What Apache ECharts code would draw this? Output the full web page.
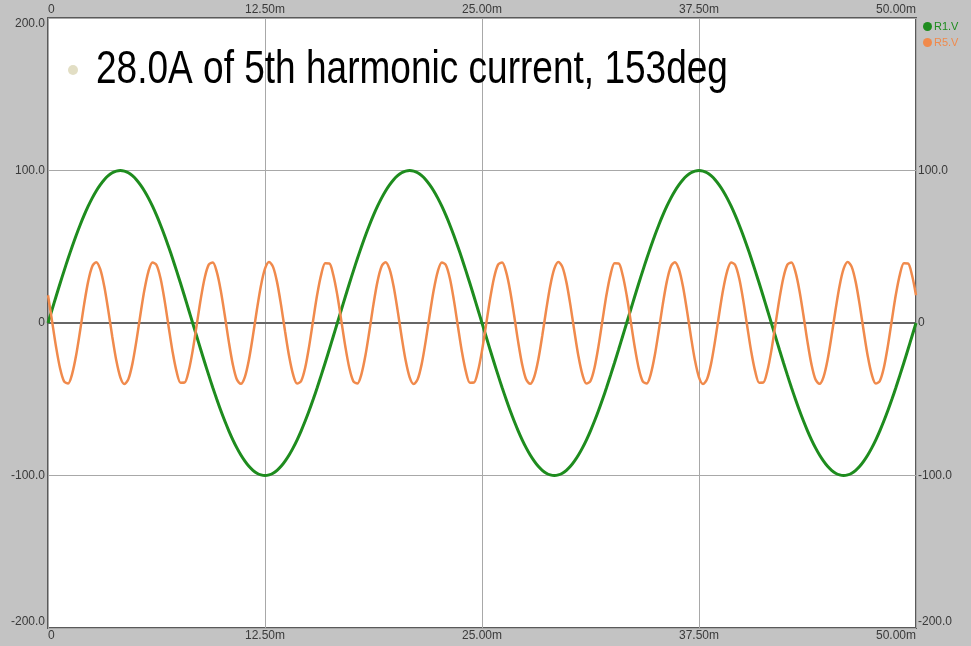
<!DOCTYPE html>
<html>
<head>
<meta charset="utf-8">
<script src="https://cdn.jsdelivr.net/npm/echarts@6/dist/echarts.min.js"></script>
<style>
html,body{margin:0;padding:0;background:#c3c3c3;}
#chart{width:971px;height:646px;}
</style>
</head>
<body>
<div id="chart"></div>
<script>
// Time span of the record (ms)
const T_END_MS = 50;
// Tick labels
const xTickValues = [0, 12.5, 25, 37.5, 50];
const yTickValues = [-200, -100, 0, 100, 200];
const seriesNames = ['R1.V', 'R5.V'];
const annotation = '28.0A of 5th harmonic current, 153deg';

// R1.V fundamental voltage samples, evenly spaced over 0..50 ms
const r1Values = [
0,8.7,17.4,25.9,34.2,42.3,50,57.4,64.3,70.7,76.6,81.9,86.6,90.6,94,96.6,98.5,99.6,100,99.6,98.5,96.6,94,90.6,86.6,81.9,76.6,70.7,64.3,57.4,50,42.3,34.2,25.9,17.4,8.7,
0,-8.7,-17.4,-25.9,-34.2,-42.3,-50,-57.4,-64.3,-70.7,-76.6,-81.9,-86.6,-90.6,-94,-96.6,-98.5,-99.6,-100,-99.6,-98.5,-96.6,-94,-90.6,-86.6,-81.9,-76.6,-70.7,-64.3,-57.4,-50,-42.3,-34.2,-25.9,-17.4,-8.7,
0,8.7,17.4,25.9,34.2,42.3,50,57.4,64.3,70.7,76.6,81.9,86.6,90.6,94,96.6,98.5,99.6,100,99.6,98.5,96.6,94,90.6,86.6,81.9,76.6,70.7,64.3,57.4,50,42.3,34.2,25.9,17.4,8.7,
0,-8.7,-17.4,-25.9,-34.2,-42.3,-50,-57.4,-64.3,-70.7,-76.6,-81.9,-86.6,-90.6,-94,-96.6,-98.5,-99.6,-100,-99.6,-98.5,-96.6,-94,-90.6,-86.6,-81.9,-76.6,-70.7,-64.3,-57.4,-50,-42.3,-34.2,-25.9,-17.4,-8.7,
0,8.7,17.4,25.9,34.2,42.3,50,57.4,64.3,70.7,76.6,81.9,86.6,90.6,94,96.6,98.5,99.6,100,99.6,98.5,96.6,94,90.6,86.6,81.9,76.6,70.7,64.3,57.4,50,42.3,34.2,25.9,17.4,8.7,
0,-8.7,-17.4,-25.9,-34.2,-42.3,-50,-57.4,-64.3,-70.7,-76.6,-81.9,-86.6,-90.6,-94,-96.6,-98.5,-99.6,-100,-99.6,-98.5,-96.6,-94,-90.6,-86.6,-81.9,-76.6,-70.7,-64.3,-57.4,-50,-42.3,-34.2,-25.9,-17.4,-8.7,
0
];

// R5.V 5th harmonic samples, same sample times
const r5Values = [
18.2,1.4,-15.6,-29.7,-38.3,-39.6,-33.5,-21.2,-4.9,12.4,27.3,37.1,39.9,35.3,24.1,8.3,-9,-24.6,-35.6,-40,-36.8,-26.8,-11.7,5.6,21.8,33.9,39.7,38,29.3,15,-2.1,-18.8,-31.9,-39.1,-39,-31.5,
-18.2,-1.4,15.6,29.7,38.3,39.6,33.5,21.2,4.9,-12.4,-27.3,-37.1,-39.9,-35.3,-24.1,-8.3,9,24.6,35.6,40,36.8,26.8,11.7,-5.6,-21.8,-33.9,-39.7,-38,-29.3,-15,2.1,18.8,31.9,39.1,39,31.5,
18.2,1.4,-15.6,-29.7,-38.3,-39.6,-33.5,-21.2,-4.9,12.4,27.3,37.1,39.9,35.3,24.1,8.3,-9,-24.6,-35.6,-40,-36.8,-26.8,-11.7,5.6,21.8,33.9,39.7,38,29.3,15,-2.1,-18.8,-31.9,-39.1,-39,-31.5,
-18.2,-1.4,15.6,29.7,38.3,39.6,33.5,21.2,4.9,-12.4,-27.3,-37.1,-39.9,-35.3,-24.1,-8.3,9,24.6,35.6,40,36.8,26.8,11.7,-5.6,-21.8,-33.9,-39.7,-38,-29.3,-15,2.1,18.8,31.9,39.1,39,31.5,
18.2,1.4,-15.6,-29.7,-38.3,-39.6,-33.5,-21.2,-4.9,12.4,27.3,37.1,39.9,35.3,24.1,8.3,-9,-24.6,-35.6,-40,-36.8,-26.8,-11.7,5.6,21.8,33.9,39.7,38,29.3,15,-2.1,-18.8,-31.9,-39.1,-39,-31.5,
-18.2,-1.4,15.6,29.7,38.3,39.6,33.5,21.2,4.9,-12.4,-27.3,-37.1,-39.9,-35.3,-24.1,-8.3,9,24.6,35.6,40,36.8,26.8,11.7,-5.6,-21.8,-33.9,-39.7,-38,-29.3,-15,2.1,18.8,31.9,39.1,39,31.5,
18.2
];

function toPairs(vals){
  const n = vals.length;
  return vals.map((v,i)=>[i*T_END_MS/(n-1), v]);
}

const GREEN = '#1e8c1e';
const ORANGE = '#f08a4c';
const LABEL_FONT = {color:'#3a3a3a', fontSize:12, fontFamily:'Liberation Sans, Arial, sans-serif'};

const xFmt = v => v === 0 ? '0' : v.toFixed(2) + 'm';
const yFmt = v => v === 0 ? '0' : v.toFixed(1);

const chart = echarts.init(document.getElementById('chart'), null, {renderer:'canvas'});
const xMin = xTickValues[0], xMax = xTickValues[xTickValues.length-1];
const yMin = yTickValues[0], yMax = yTickValues[yTickValues.length-1];
const xInt = xTickValues[1]-xTickValues[0];
const yInt = yTickValues[1]-yTickValues[0];

const xBase = {
  type:'value', min:xMin, max:xMax, interval:xInt,
  axisLine:{show:false}, axisTick:{show:false},
  axisLabel:Object.assign({formatter:xFmt, margin:2, alignMinLabel:'left', alignMaxLabel:'right', showMinLabel:true, showMaxLabel:true}, LABEL_FONT)
};
const yBase = {
  type:'value', min:yMin, max:yMax, interval:yInt,
  axisLine:{show:false}, axisTick:{show:false},
  axisLabel:Object.assign({formatter:yFmt, margin:3, verticalAlignMinLabel:'bottom', verticalAlignMaxLabel:'top', showMinLabel:true, showMaxLabel:true}, LABEL_FONT)
};

chart.setOption({
  backgroundColor:'#c3c3c3',
  animation:false,
  grid:{left:48, right:55, top:18, bottom:18, show:true, backgroundColor:'#ffffff', borderColor:'#5a5a5a', borderWidth:2, containLabel:false},
  legend:{
    orient:'vertical', left:923, top:21, padding:0, itemWidth:9, itemHeight:9, itemGap:5, icon:'circle',
    textStyle:{fontSize:11, fontFamily:'Liberation Sans, Arial, sans-serif', padding:[0,0,0,-3]},
    data:[{name:seriesNames[0], textStyle:{color:GREEN}},{name:seriesNames[1], textStyle:{color:ORANGE}}]
  },
  xAxis:[
    Object.assign({}, xBase, {position:'bottom', splitLine:{show:true, lineStyle:{color:'#a8a8a8', width:1}}}),
    Object.assign({}, xBase, {position:'top', splitLine:{show:false}})
  ],
  yAxis:[
    Object.assign({}, yBase, {position:'left', splitLine:{show:true, lineStyle:{color:'#a8a8a8', width:1}}}),
    Object.assign({}, yBase, {position:'right', splitLine:{show:false}, axisLabel:Object.assign({}, yBase.axisLabel, {margin:2, showMaxLabel:false})})
  ],
  graphic:[
    {type:'circle', shape:{cx:73, cy:70, r:5}, style:{fill:'#e2dec4'}, z:100},
    {type:'text', x:96, y:70, scaleX:0.805, style:{text:annotation, fill:'#000', fontSize:46, fontFamily:'Liberation Sans, Arial, sans-serif', verticalAlign:'middle', align:'left'}, z:100}
  ],
  series:[
    {
      name:seriesNames[0], type:'line', data:toPairs(r1Values), showSymbol:false, symbol:'circle', smooth:0.3,
      lineStyle:{color:GREEN, width:3}, itemStyle:{color:GREEN},
      markLine:{silent:true, symbol:'none', label:{show:false}, lineStyle:{color:'#666', width:2, type:'solid'}, data:[{yAxis:0}], z:1}
    },
    {
      name:seriesNames[1], type:'line', data:toPairs(r5Values), showSymbol:false, symbol:'circle', smooth:0.3,
      lineStyle:{color:ORANGE, width:2.5}, itemStyle:{color:ORANGE}
    }
  ]
});
</script>
</body>
</html>
